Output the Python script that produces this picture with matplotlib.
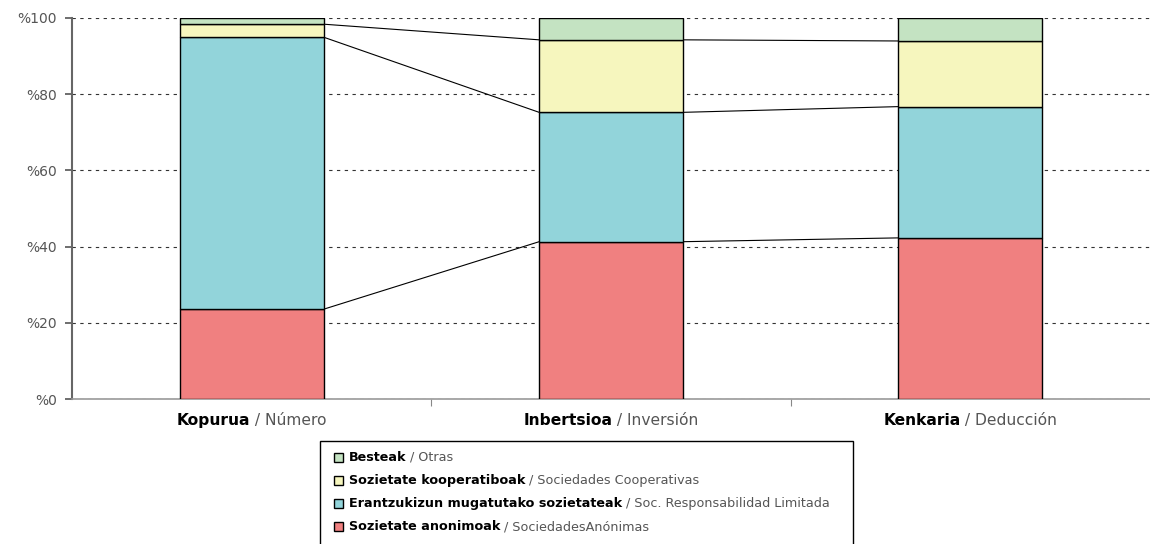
import numpy as np
import matplotlib
matplotlib.use("Agg")
import matplotlib.pyplot as plt
from matplotlib.offsetbox import TextArea, HPacker, VPacker, DrawingArea, AnnotationBbox
from matplotlib.patches import Rectangle

plt.rcParams['font.family'] = ['DejaVu Sans']

categories_eu = ['Kopurua', 'Inbertsioa', 'Kenkaria']
categories_es = ['Número', 'Inversión', 'Deducción']

# shares in %, bottom to top
anonimoak = [23.6, 41.3, 42.3]
mugatuak = [71.3, 33.9, 34.4]
kooperatiboak = [3.4, 19.0, 17.2]
besteak = [1.7, 5.8, 6.1]

series = [anonimoak, mugatuak, kooperatiboak, besteak]
series_eu = ['Sozietate anonimoak', 'Erantzukizun mugatutako sozietateak',
             'Sozietate kooperatiboak', 'Besteak']
series_es = ['SociedadesAnónimas', 'Soc. Responsabilidad Limitada',
             'Sociedades Cooperativas', 'Otras']
colors = ['#F08080', '#92D4DA', '#F6F6BE', '#C4E3C2']

fig = plt.figure(figsize=(11.5, 5.44), dpi=100)
ax = fig.add_axes([72 / 1150, 144.7 / 544, 1 - 72 / 1150, 381.6 / 544])

x = np.arange(len(categories_eu))
width = 0.4
bottom = np.zeros(len(x))
tops = []
for vals, c in zip(series, colors):
    ax.bar(x, vals, width, bottom=bottom, color=c, edgecolor='black',
           linewidth=1.0, zorder=3)
    bottom = bottom + np.array(vals)
    tops.append(bottom.copy())

# connector lines between bars
for t in tops[:-1]:
    for i in range(len(x) - 1):
        ax.plot([x[i] + width / 2, x[i + 1] - width / 2], [t[i], t[i + 1]],
                color='black', linewidth=0.8, zorder=2)

ax.set_xlim(-0.5, 2.5)
ax.set_ylim(0, 100)
ax.set_yticks(np.arange(0, 101, 20))
ax.set_yticklabels(['%' + str(v) for v in range(0, 101, 20)],
                   color='#555555', fontsize=10)
ax.yaxis.grid(True, linestyle=(0, (3, 4)), color='#333333', linewidth=0.8, zorder=1)
ax.set_xticks([0.5, 1.5])
ax.set_xticklabels([])
ax.tick_params(axis='x', length=5, color='#888888', direction='out')
ax.tick_params(axis='y', length=5, color='#555555', width=1.2, pad=6)
for s in ['top', 'right']:
    ax.spines[s].set_visible(False)
ax.spines['left'].set_color('#666666')
ax.spines['left'].set_linewidth(1.5)
ax.spines['bottom'].set_color('#999999')
ax.spines['bottom'].set_linewidth(1.2)

# category labels
for i, (eu, es) in enumerate(zip(categories_eu, categories_es)):
    box = HPacker(children=[
        TextArea(eu, textprops=dict(fontweight='bold', fontsize=11.2, color='black')),
        TextArea(' / ' + es, textprops=dict(fontsize=11.2, color='#555555')),
    ], align='baseline', pad=0, sep=0)
    ab = AnnotationBbox(box, (x[i], 0), xycoords='data', xybox=(0, -10),
                        boxcoords='offset points', box_alignment=(0.5, 1),
                        frameon=False, annotation_clip=False)
    ax.add_artist(ab)

# legend
fig.patches.append(Rectangle((320 / 1150, -0.01), (853 - 320) / 1150, (544 - 441) / 544 + 0.01,
                             transform=fig.transFigure, fill=False,
                             edgecolor='black', linewidth=1.0))
rows = []
for k in reversed(range(len(series))):
    da = DrawingArea(6.5, 6.5, 0, 0)
    da.add_artist(Rectangle((0, 0), 6.5, 6.5, facecolor=colors[k], edgecolor='black', linewidth=1.0))
    txt = HPacker(children=[
        TextArea(series_eu[k], textprops=dict(fontweight='bold', fontsize=9.2, color='black')),
        TextArea(' / ' + series_es[k], textprops=dict(fontsize=9.2, color='#555555')),
    ], align='baseline', pad=0, sep=0)
    rows.append(HPacker(children=[da, txt], align='center', pad=0, sep=4))
legend_box = VPacker(children=rows, align='left', pad=0, sep=7.3)
lab = AnnotationBbox(legend_box, (334 / 1150, 1 - 451 / 544), xycoords='figure fraction',
                     box_alignment=(0, 1), frameon=False)
fig.add_artist(lab)

fig.savefig('out.png', dpi=100)
